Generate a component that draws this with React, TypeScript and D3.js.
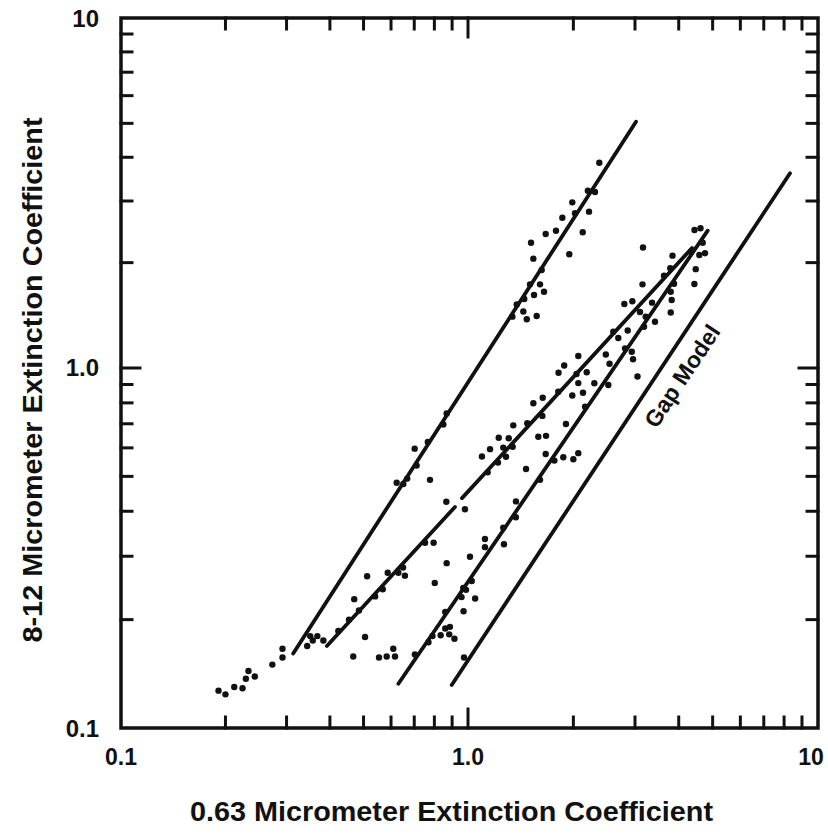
import React from 'react';
import * as d3 from 'd3';

// ---- data ----
const lowerPoints: [number, number][] = [
  [0.191, 0.127], [0.2, 0.124], [0.212, 0.13], [0.224, 0.129], [0.229, 0.137], [0.233, 0.144], [0.243, 0.139],
  [0.273, 0.15], [0.292, 0.166], [0.292, 0.157],
  [0.344, 0.169], [0.351, 0.18], [0.357, 0.175], [0.368, 0.18], [0.383, 0.175], [0.423, 0.186], [0.454, 0.2],
  [0.47, 0.228], [0.485, 0.212], [0.512, 0.264], [0.505, 0.179], [0.54, 0.232], [0.568, 0.243], [0.587, 0.27],
  [0.63, 0.27], [0.65, 0.279], [0.658, 0.265],
  [0.467, 0.158], [0.554, 0.157], [0.583, 0.158], [0.609, 0.166], [0.616, 0.158],
  [0.703, 0.16], [0.769, 0.173], [0.79, 0.18], [0.834, 0.181], [0.86, 0.189], [0.887, 0.191], [0.883, 0.182],
  [0.914, 0.177], [0.86, 0.21], [0.971, 0.211], [0.802, 0.253], [0.868, 0.287], [0.958, 0.231], [0.969, 0.245],
  [0.987, 0.242], [1.048, 0.229], [1.025, 0.256], [0.974, 0.157],
];

const middlePoints: [number, number][] = [
  [0.752, 0.327], [0.796, 0.327], [1.013, 0.299], [1.118, 0.335], [1.118, 0.318], [1.267, 0.324], [1.261, 0.36],
  [1.37, 0.385], [1.371, 0.426], [0.866, 0.425], [0.98, 0.405],
  [1.606, 0.489], [1.465, 0.524], [1.218, 0.546], [1.138, 0.513], [1.096, 0.568], [1.156, 0.595], [1.224, 0.64],
  [1.261, 0.601], [1.307, 0.638], [1.342, 0.604], [1.284, 0.567], [1.347, 0.693], [1.477, 0.702], [1.537, 0.798],
  [1.635, 0.827], [1.631, 0.736], [1.588, 0.644], [1.671, 0.648], [1.667, 0.577], [1.765, 0.553], [1.872, 0.565],
  [2.0, 0.558], [2.066, 0.58], [1.905, 0.699], [2.16, 0.781], [1.811, 0.859], [1.986, 0.839], [2.131, 0.854],
  [2.296, 0.907], [2.066, 0.908], [2.184, 0.973], [2.042, 0.962], [1.814, 0.97], [1.883, 1.017], [2.066, 1.082],
  [2.517, 0.897], [2.476, 1.093], [2.537, 1.028], [2.688, 1.218], [2.601, 1.27], [2.859, 1.28], [3.05, 0.947],
  [2.81, 1.138], [2.937, 1.113], [2.962, 1.059], [3.184, 1.312], [3.422, 1.356], [3.22, 1.402], [3.1, 1.445],
  [2.797, 1.524], [2.948, 1.551], [3.356, 1.537], [3.795, 1.44], [3.819, 1.564], [3.795, 1.652], [3.878, 1.741],
  [3.631, 1.834], [3.784, 1.927], [3.84, 2.094], [3.152, 1.734], [3.162, 2.21], [4.434, 1.738], [4.474, 1.916],
  [4.337, 2.149], [4.58, 2.103], [4.755, 2.127], [4.684, 2.28], [4.438, 2.479], [4.616, 2.507],
];

const upperPoints: [number, number][] = [
  [0.623, 0.48], [0.651, 0.476], [0.668, 0.493], [0.711, 0.536], [0.702, 0.597], [0.766, 0.623], [0.777, 0.489],
  [0.849, 0.697], [0.868, 0.748], [1.339, 1.402], [1.378, 1.519], [1.439, 1.45], [1.472, 1.378], [1.571, 1.408],
  [1.448, 1.575], [1.544, 1.617], [1.504, 1.734], [1.606, 1.734], [1.649, 1.652], [1.624, 1.905], [1.537, 2.053],
  [1.514, 2.28], [1.667, 2.415], [1.784, 2.468], [1.86, 2.688], [1.947, 2.113], [1.986, 2.974], [2.022, 2.767],
  [2.127, 2.442], [2.217, 2.797], [2.2, 3.211], [2.306, 3.184], [2.372, 3.86],
];

// fitted lines: [x1, y1, x2, y2]
const fitLines: [number, number, number, number][] = [
  [0.3135, 0.161, 3.02, 5.055],
  [0.392, 0.169, 0.917, 0.411],
  [0.961, 0.435, 4.365, 2.202],
  [0.63, 0.1327, 4.84, 2.468],
];
const gapModelLine: [number, number, number, number] = [0.8975, 0.1317, 8.318, 3.6];
const gapLabel = 'Gap Model';
const gapLabelAt: [number, number] = [4.09, 0.95];

const minorTicks = [0.2, 0.3, 0.4, 0.5, 0.6, 0.7, 0.8, 0.9, 2, 3, 4, 5, 6, 7, 8, 9];
const majorTicks = [1];
const xLabelValues = [0.1, 1, 10];
const xLabelTexts = ['0.1', '1.0', '10'];
const yLabelValues = [10, 1, 0.1];
const yLabelTexts = ['10', '1.0', '0.1'];
const xTitle = '0.63 Micrometer Extinction Coefficient';
const yTitle = '8-12 Micrometer Extinction Coefficient';

export default function App() {
  const W = 828, H = 834;
  const x = d3.scaleLog().domain([0.1, 1, 10]).range([121, 468, 818]);
  const y = d3.scaleLog().domain([0.1, 1, 10]).range([728, 368, 18]);
  const xl = x(0.1), xr = x(10), yb = y(0.1), yt = y(10);
  const font = '"Liberation Sans", Arial, Helvetica, sans-serif';
  const line = d3.line<[number, number]>().x(d => x(d[0])).y(d => y(d[1]));
  const allLines = [...fitLines, gapModelLine];
  const [g1, g2, g3, g4] = gapModelLine;
  const ang = (Math.atan2(y(g4) - y(g2), x(g3) - x(g1)) * 180) / Math.PI;
  const pts = [...lowerPoints, ...middlePoints, ...upperPoints];
  const minL = 11, majL = 19;
  const ink = '#111';
  const gx = x(gapLabelAt[0]), gy = y(gapLabelAt[1]);

  return (
    <svg width={W} height={H} style={{ position: 'absolute', left: 0, top: 0, background: '#fff' }}>
      <rect x={0} y={0} width={W} height={H} fill="#fff" />
      <g stroke={ink} strokeWidth={3} strokeLinecap="square">
        <path d={`M${xl},${yt}H${xr}V${yb}H${xl}Z`} fill="none" strokeWidth={3.5} />
        {minorTicks.map(v => (
          <g key={'xm' + v}>
            <line x1={x(v)} x2={x(v)} y1={yb} y2={yb - minL} />
            <line x1={x(v)} x2={x(v)} y1={yt} y2={yt + minL} />
            <line x1={xl} x2={xl + minL} y1={y(v)} y2={y(v)} />
            <line x1={xr} x2={xr - minL} y1={y(v)} y2={y(v)} />
          </g>
        ))}
        {majorTicks.map(v => (
          <g key={'xM' + v}>
            <line x1={x(v)} x2={x(v)} y1={yb} y2={yb - majL} />
            <line x1={x(v)} x2={x(v)} y1={yt} y2={yt + majL} />
            <line x1={xl} x2={xl + majL} y1={y(v)} y2={y(v)} />
            <line x1={xr} x2={xr - majL} y1={y(v)} y2={y(v)} />
          </g>
        ))}
      </g>
      <g stroke={ink} strokeWidth={3.8} strokeLinecap="round" fill="none">
        {allLines.map((l, i) => (
          <path key={i} d={line([[l[0], l[1]], [l[2], l[3]]]) || ''} />
        ))}
      </g>
      <g fill={ink}>
        {pts.map((p, i) => (
          <circle key={i} cx={x(p[0])} cy={y(p[1])} r={3.2} />
        ))}
      </g>
      <g fontFamily={font} fontWeight="bold" fill={ink}>
        {xLabelValues.map((v, i) => (
          <text key={'xl' + i} x={x(v) - (i === 2 ? 7 : 0)} y={757} textAnchor="middle" dy="0.35em" fontSize={23}>
            {xLabelTexts[i]}
          </text>
        ))}
        {yLabelValues.map((v, i) => (
          <text key={'yl' + i} x={99} y={y(v) + (i === 2 ? 1 : i === 0 ? 1 : 0)} textAnchor="end" dy="0.35em" fontSize={24}>
            {yLabelTexts[i]}
          </text>
        ))}
        <text x={gx} y={gy} textAnchor="middle" dy="0.35em" fontSize={23} transform={`rotate(${ang},${gx},${gy})`}>
          {gapLabel}
        </text>
      </g>
      <g fontFamily={font} fontWeight="bold" fill={ink} fontSize={28}>
        <text x={451.5} y={821} textAnchor="middle" textLength={523} lengthAdjust="spacingAndGlyphs">
          {xTitle}
        </text>
        <text transform={`translate(42,380) rotate(-90)`} textAnchor="middle" textLength={525} lengthAdjust="spacingAndGlyphs">
          {yTitle}
        </text>
      </g>
    </svg>
  );
}
